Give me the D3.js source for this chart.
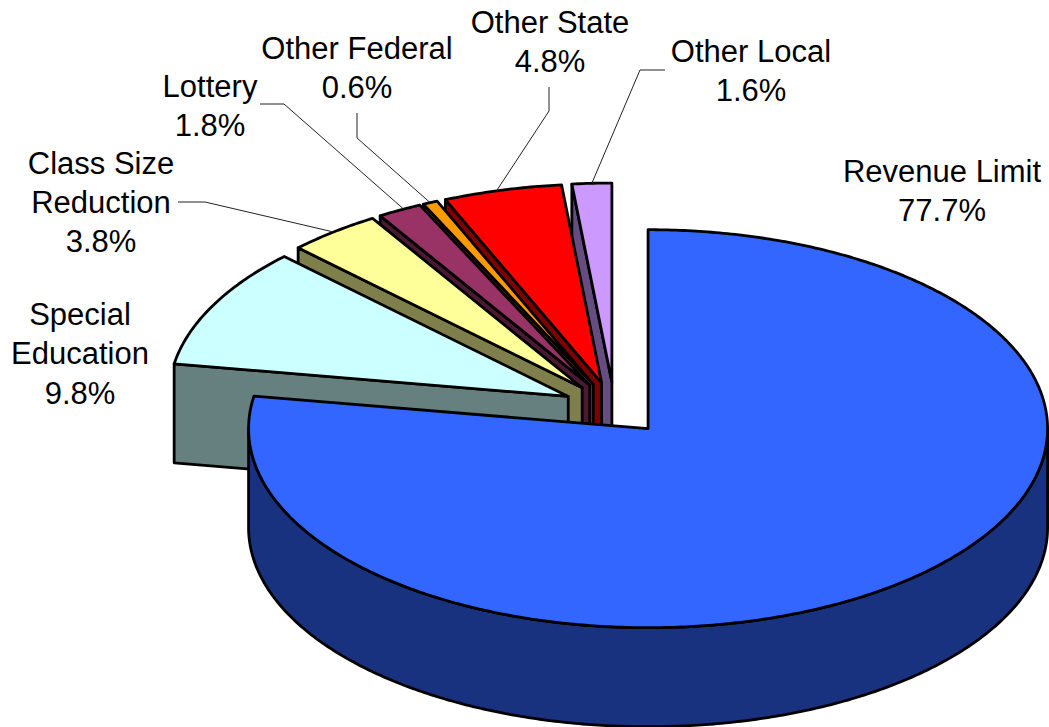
<!DOCTYPE html>
<html>
<head>
<meta charset="utf-8">
<script src="https://cdn.jsdelivr.net/npm/d3@7"></script>
<style>
  html, body { margin: 0; padding: 0; background: #fff; }
  svg { display: block; }
  text { font-family: "Liberation Sans", Arial, sans-serif; font-size: 31px; fill: #000; }
</style>
</head>
<body>
<svg id="chart"></svg>
<script>
// Chart data
const categories = [
    ["Revenue Limit"],
    ["Special", "Education"],
    ["Class Size", "Reduction"],
    ["Lottery"],
    ["Other Federal"],
    ["Other State"],
    ["Other Local"]
];
const shares = [77.7, 9.8, 3.8, 1.8, 0.6, 4.8, 1.6];

// Slice colours, top face and side wall
const topColors = ["#3366FF", "#CCFFFF", "#FFFF99", "#993366", "#FF9900", "#FF0000", "#CC99FF"];
const wallColors = ["#19327F", "#667F7F", "#7F7F4C", "#4C1933", "#7F4C00", "#7F0000", "#664C7F"];

// Label placement: text centre, first baseline, leader elbows
const labelX = [942, 80, 101, 210, 357, 550, 751];
const labelY = [182, 325, 173.5, 97, 59, 32.5, 62];
const leaders = [
    null,
    null,
    [[178, 202], [205, 202]],
    [[260, 104], [284, 104]],
    [[357, 113], [357, 138]],
    [[549, 87], [549, 111]],
    [[665, 70], [640, 70]]
];
// Where along the rim (0-1 across the slice) each leader lands
const leaderRim = [0, 0, 0.5, 0.6, 0.5, 0.45, 0.5];

const width = 1049, height = 727;
const rx = 399.5, ry = 199, depth = 99;
const centerX = 614.5, centerY = 408.5, explodeX = 0.13, explodeY = 0.133;

const svg = d3.select("#chart").attr("width", width).attr("height", height);

// Ellipse projection of the unit pie
const xScale = d3.scaleLinear().domain([-1, 1]).range([-rx, rx]);
const yScale = d3.scaleLinear().domain([-1, 1]).range([-ry, ry]);

const pie = d3.pie().sort(null).value(function(d) { return d; });
const slices = pie(shares).map(function(d, i) {
    const mid = (d.startAngle + d.endAngle) / 2;
    return {
        index: i,
        start: d.startAngle,
        end: d.endAngle,
        apex: [
            centerX + xScale(explodeX * Math.sin(mid)),
            centerY + yScale(-explodeY * Math.cos(mid))
        ]
    };
});

const line = d3.line();

function rimPoint(s, angle, drop) {
    return [
        s.apex[0] + xScale(Math.sin(angle)),
        s.apex[1] + yScale(-Math.cos(angle)) + (drop || 0)
    ];
}

function rimPoints(s, from, to, drop) {
    const steps = Math.max(2, Math.ceil(Math.abs(to - from) / 0.01));
    return d3.range(steps + 1).map(function(k) {
        return rimPoint(s, from + (to - from) * k / steps, drop);
    });
}

function style(path, fill) {
    return path.attr("fill", fill)
        .attr("stroke", "#000")
        .attr("stroke-width", 2.8)
        .attr("stroke-linejoin", "round");
}

// Draw back to front: the small slices from the far side, then the big one
slices.slice().reverse().forEach(function(s) {
    if (s.index === 0) {
        // curved front wall of the big slice
        const front = rimPoints(s, Math.PI / 2, 3 * Math.PI / 2, 0);
        const back = rimPoints(s, 3 * Math.PI / 2, Math.PI / 2, depth);
        style(svg.append("path"), wallColors[s.index]).attr("d", line(front.concat(back)) + "Z");
    } else {
        // flat wall along the start edge
        const rim = rimPoint(s, s.start);
        const wall = [rim, s.apex, [s.apex[0], s.apex[1] + depth], [rim[0], rim[1] + depth]];
        style(svg.append("path"), wallColors[s.index]).attr("d", line(wall) + "Z");
    }
    const face = [s.apex].concat(rimPoints(s, s.start, s.end, 0));
    style(svg.append("path"), topColors[s.index]).attr("d", line(face) + "Z");
});

// Leader lines
slices.forEach(function(s) {
    const elbows = leaders[s.index];
    if (!elbows) return;
    const end = rimPoint(s, s.start + (s.end - s.start) * leaderRim[s.index]);
    svg.append("path")
        .attr("d", line(elbows.concat([end])))
        .attr("fill", "none")
        .attr("stroke", "#222")
        .attr("stroke-width", 1);
});

// Labels
slices.forEach(function(s) {
    const lines = categories[s.index].concat([d3.format(".1f")(shares[s.index]) + "%"]);
    const label = svg.append("text")
        .attr("text-anchor", "middle")
        .attr("x", labelX[s.index])
        .attr("y", labelY[s.index]);
    label.selectAll("tspan")
        .data(lines)
        .enter()
        .append("tspan")
        .attr("x", labelX[s.index])
        .attr("dy", function(d, k) { return k === 0 ? 0 : 39.3; })
        .text(function(d) { return d; });
});
</script>
</body>
</html>
